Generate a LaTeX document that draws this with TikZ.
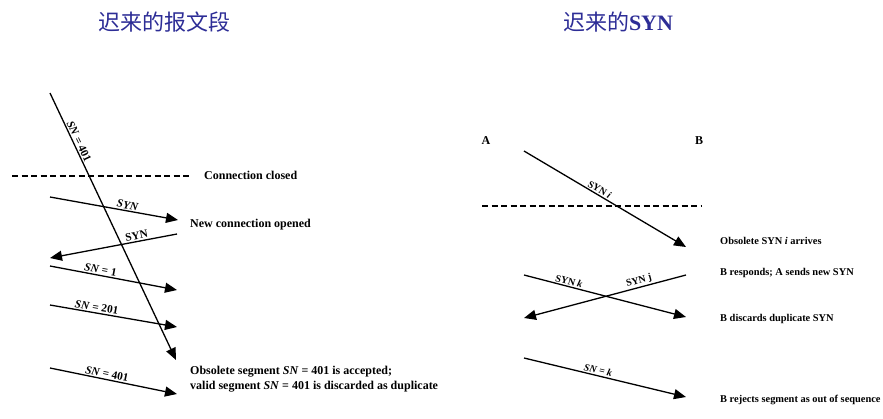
\documentclass[tikz,border=0pt]{standalone}
\usepackage{fontspec}
\setmainfont{Liberation Serif}
\newfontfamily\cjk{Noto Sans CJK SC}
\usetikzlibrary{arrows.meta}
\definecolor{titleblue}{RGB}{45,45,150}
\begin{document}
\begin{tikzpicture}[x=1pt,y=-1pt,
  msg/.style={line width=1.3pt,-{Triangle[length=12pt,width=10pt]}},
  rmsg/.style={line width=1.3pt,{Triangle[length=12pt,width=10pt]}-},
  lbl/.style={font=\fontsize{11.3}{12}\selectfont\bfseries,sloped,above,inner sep=1.2pt},
  rlbl/.style={font=\fontsize{10}{11}\selectfont\bfseries,sloped,above,inner sep=1.2pt},
  note/.style={font=\fontsize{12}{15}\selectfont\bfseries,anchor=west,inner sep=0pt,align=left},
  rnote/.style={font=\fontsize{10.4}{12}\selectfont\bfseries,anchor=west,inner sep=0pt},
  ttl/.style={font=\fontsize{22}{24}\selectfont,text=titleblue,inner sep=0pt}]
\useasboundingbox (0,0) rectangle (883,418);
% titles
\node[ttl] (t1) at (164,22) {\cjk 迟来的报文段};
\node[ttl] (t2) at (618,22) {{\cjk 迟来的}\bfseries SYN};
% ---------- left diagram ----------
\coordinate (L0) at (50,93);   \coordinate (L0e) at (176,360);
\coordinate (D1) at (12,176);  \coordinate (D1e) at (192,176);
\coordinate (S1) at (50,197);  \coordinate (S1e) at (178,220);
\coordinate (S2) at (50,258);  \coordinate (S2e) at (177,234);
\coordinate (S3) at (50,266);  \coordinate (S3e) at (177,290);
\coordinate (S4) at (50,305);  \coordinate (S4e) at (177,327);
\coordinate (S5) at (50,368);  \coordinate (S5e) at (177,394);
\draw[msg] (L0) -- node[lbl,pos=0.19] {\textit{SN} = 401} (L0e);
\draw[line width=1.1pt,dash pattern=on 6pt off 3.5pt] (D1) -- (D1e);
\draw[msg] (S1) -- node[lbl,pos=0.6] {\textit{SYN}} (S1e);
\draw[rmsg] (S2) -- node[lbl,pos=0.69] {SYN} (S2e);
\draw[msg] (S3) -- node[lbl,pos=0.39] {\textit{SN} = 1} (S3e);
\draw[msg] (S4) -- node[lbl,pos=0.36] {\textit{SN} = 201} (S4e);
\draw[msg] (S5) -- node[lbl,pos=0.44] {\textit{SN} = 401} (S5e);
\node[note] (n1) at (204,175) {Connection closed};
\node[note] (n2) at (190,225) {New connection opened};
\node[note] (n3) at (190,379) {Obsolete segment \textit{SN} = 401 is accepted;\\valid segment \textit{SN} = 401 is discarded as duplicate};
% ---------- right diagram ----------
\node[font=\fontsize{12}{14}\selectfont\bfseries] (A) at (486,141) {A};
\node[font=\fontsize{12}{14}\selectfont\bfseries] (B) at (699,141) {B};
\coordinate (R1) at (524,151); \coordinate (R1e) at (686,247);
\coordinate (D2) at (482,206); \coordinate (D2e) at (702,206);
\coordinate (R2) at (524,275); \coordinate (R2e) at (686,317);
\coordinate (R3) at (524,318); \coordinate (R3e) at (686,275);
\coordinate (R4) at (524,358); \coordinate (R4e) at (686,397);
\draw[msg] (R1) -- node[rlbl,pos=0.45] {SYN \textit{i}} (R1e);
\draw[line width=1.1pt,dash pattern=on 6pt off 3.5pt] (D2) -- (D2e);
\draw[msg] (R2) -- node[rlbl,pos=0.27] {SYN \textit{k}} (R2e);
\draw[rmsg] (R3) -- node[rlbl,pos=0.72] {SYN j} (R3e);
\draw[msg] (R4) -- node[rlbl,pos=0.45] {\textit{SN} = \textit{k}} (R4e);
\node[rnote] (m1) at (720,241) {Obsolete SYN \textit{i} arrives};
\node[rnote] (m2) at (720,273) {B responds; A sends new SYN};
\node[rnote] (m3) at (720,319) {B discards duplicate SYN};
\node[rnote] (m4) at (720,400) {B rejects segment as out of sequence};
\end{tikzpicture}
\end{document}
